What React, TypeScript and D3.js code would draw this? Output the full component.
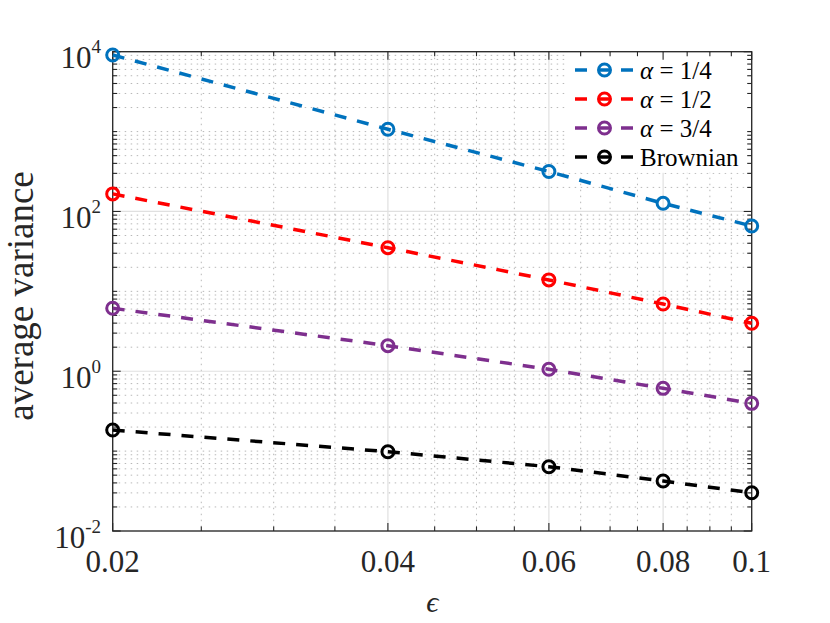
import React from 'react';
import * as d3 from 'd3';

const epsilons = [0.02, 0.04, 0.06, 0.08, 0.1];
const alphaQuarter = [9100, 1069, 316, 126.5, 65.8];
const alphaHalf = [166, 35.2, 13.9, 6.94, 3.98];
const alphaThreeQuarter = [6.14, 2.09, 1.057, 0.611, 0.396];
const brownian = [0.1836, 0.0983, 0.0638, 0.0423, 0.0301];

const seriesNames = ['α', 'α', 'α', 'Brownian'];
const seriesSuffix = [' = 1/4', ' = 1/2', ' = 3/4', ''];
const seriesColors = ['#0072BD', '#FF0000', '#7E2F8E', '#000000'];

const xTickValues = [0.02, 0.04, 0.06, 0.08, 0.1];
const xTickLabels = ['0.02', '0.04', '0.06', '0.08', '0.1'];
const xMinorTicks = [0.025, 0.03, 0.035, 0.045, 0.05, 0.055, 0.065, 0.07, 0.075, 0.085, 0.09, 0.095];
const yTickValues = [1e-2, 1e0, 1e2, 1e4];
const yTickExponents = ['-2', '0', '2', '4'];

const W = 830;
const H = 623;
const L = 112.7;
const R = 751.7;
const T = 51.7;
const B = 531;
const FONT = '"Liberation Serif", "Times New Roman", "DejaVu Serif", serif';

export default function App() {
  const x = d3.scaleLog().domain([0.02, 0.1]).range([L, R]);
  const y = d3.scaleLog().domain([1e-2, 1e4]).range([B, T]);
  const yMinor = y.ticks().filter((v) => !yTickValues.some((m) => Math.abs(Math.log10(v) - Math.log10(m)) < 1e-6));

  const series = [alphaQuarter, alphaHalf, alphaThreeQuarter, brownian];
  const line = d3
    .line<number>()
    .x((_, i) => x(epsilons[i]))
    .y((d) => y(d));

  const axisColor = '#262626';
  const majLen = 8;
  const minLen = 4.5;
  const ts = { fontFamily: FONT };

  return (
    <svg width={W} height={H} style={{ position: 'absolute', left: 0, top: 0, background: '#fff', fontFamily: FONT }}>
      <rect x={0} y={0} width={W} height={H} fill="#fff" />
      <g stroke="#b8b8b8" strokeWidth={1} strokeDasharray="1.5 4.5">
        {xMinorTicks.map((v) => (
          <line key={'xm' + v} x1={x(v)} x2={x(v)} y1={T} y2={B} />
        ))}
        {yMinor.map((v) => (
          <line key={'ym' + v} x1={L} x2={R} y1={y(v)} y2={y(v)} />
        ))}
      </g>
      <g stroke="#e0e0e0" strokeWidth={1.2}>
        {xTickValues.map((v) => (
          <line key={'xg' + v} x1={x(v)} x2={x(v)} y1={T} y2={B} />
        ))}
        {yTickValues.map((v) => (
          <line key={'yg' + v} x1={L} x2={R} y1={y(v)} y2={y(v)} />
        ))}
      </g>
      <rect x={568} y={T + 0.8} width={R - 568 - 0.8} height={172 - T} fill="#fff" />
      <rect x={L} y={T} width={R - L} height={B - T} fill="none" stroke={axisColor} strokeWidth={1.3} />
      <g stroke={axisColor} strokeWidth={1.1}>
        {xTickValues.map((v) => (
          <g key={'xt' + v}>
            <line x1={x(v)} x2={x(v)} y1={B} y2={B - majLen} />
            <line x1={x(v)} x2={x(v)} y1={T} y2={T + majLen} />
          </g>
        ))}
        {xMinorTicks.map((v) => (
          <g key={'xmt' + v}>
            <line x1={x(v)} x2={x(v)} y1={B} y2={B - minLen} />
            <line x1={x(v)} x2={x(v)} y1={T} y2={T + minLen} />
          </g>
        ))}
        {yTickValues.map((v) => (
          <g key={'yt' + v}>
            <line x1={L} x2={L + majLen} y1={y(v)} y2={y(v)} />
            <line x1={R} x2={R - majLen} y1={y(v)} y2={y(v)} />
          </g>
        ))}
        {yMinor.map((v) => (
          <g key={'ymt' + v}>
            <line x1={L} x2={L + minLen} y1={y(v)} y2={y(v)} />
            <line x1={R} x2={R - minLen} y1={y(v)} y2={y(v)} />
          </g>
        ))}
      </g>
      <g fill="#262626" fontSize={31}>
        {xTickValues.map((v, i) => (
          <text key={'xl' + v} x={x(v)} y={572} textAnchor="middle" style={ts}>
            {xTickLabels[i]}
          </text>
        ))}
        {yTickValues.map((v, i) => (
          <text key={'yl' + v} x={101} y={y(v) + 16.5} textAnchor="end" style={ts}>
            <tspan>10</tspan>
            <tspan fontSize={19} dy={-15}>
              {yTickExponents[i]}
            </tspan>
          </text>
        ))}
      </g>
      <text x={(L + R) / 2} y={612} textAnchor="middle" fontSize={30} fontStyle="italic" fill="#262626" style={ts}>
        ϵ
      </text>
      <text transform={`translate(33, 296) rotate(-90)`} textAnchor="middle" fontSize={37} fill="#262626" style={ts}>
        average variance
      </text>
      {series.map((s, si) => (
        <g key={'s' + si}>
          <path d={line(s) || ''} fill="none" stroke={seriesColors[si]} strokeWidth={3.5} strokeDasharray="12 11" />
          {s.map((v, i) => (
            <circle key={i} cx={x(epsilons[i])} cy={y(v)} r={6} fill="none" stroke={seriesColors[si]} strokeWidth={3} />
          ))}
        </g>
      ))}
      {seriesNames.map((name, i) => {
        const ry = 70 + i * 29;
        return (
          <g key={'lg' + i}>
            <line x1={575} x2={634} y1={ry} y2={ry} stroke={seriesColors[i]} strokeWidth={3.5} strokeDasharray="12 11" />
            <circle cx={604.5} cy={ry} r={6} fill="none" stroke={seriesColors[i]} strokeWidth={3} />
            <text x={640} y={ry + 8.5} fontSize={25} fill="#000" style={ts}>
              {i < 3 ? (
                <>
                  <tspan fontStyle="italic">{name}</tspan>
                  <tspan>{seriesSuffix[i]}</tspan>
                </>
              ) : (
                name
              )}
            </text>
          </g>
        );
      })}
    </svg>
  );
}
